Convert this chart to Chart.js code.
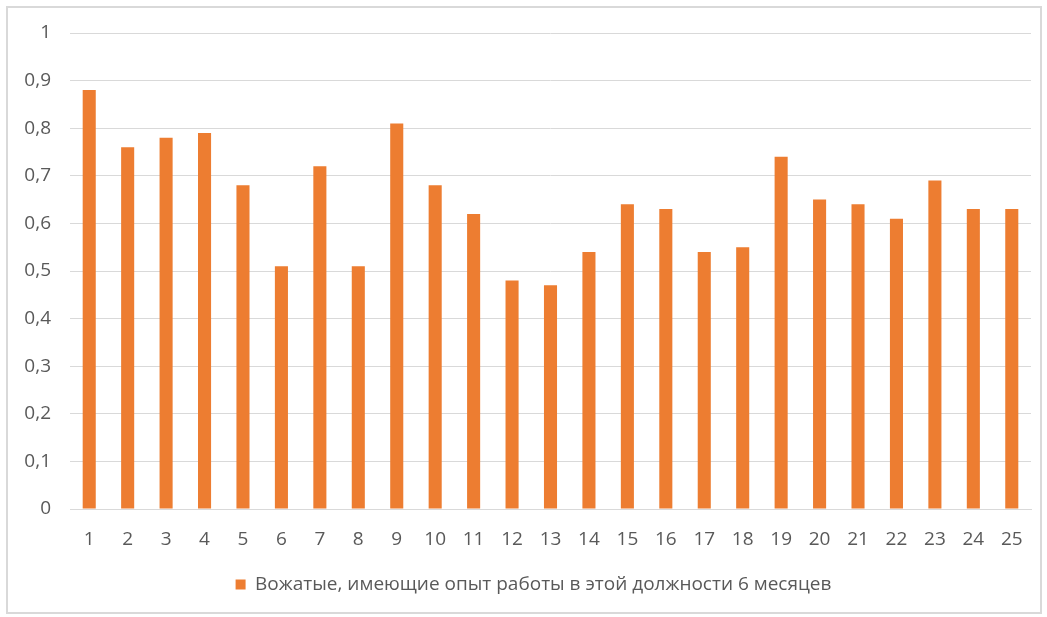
<!DOCTYPE html>
<html>
<head>
<meta charset="utf-8">
<script src="https://cdn.jsdelivr.net/npm/chart.js@4"></script>
<style>
  body { margin: 0; background: #fff; }
  #frame { position: absolute; left: 6px; top: 6px; width: 1032px; height: 604px; border: 2px solid #d9d9d9; }
  canvas { display: block; }
</style>
</head>
<body>
<div id="frame"><canvas id="bar-chart" width="1032" height="604"></canvas></div>
<script>
var groups = ['1','2','3','4','5','6','7','8','9','10','11','12','13','14','15','16','17','18','19','20','21','22','23','24','25'];
var shares = [0.88, 0.76, 0.78, 0.79, 0.68, 0.51, 0.72, 0.51, 0.81, 0.68, 0.62, 0.48, 0.47, 0.54, 0.64, 0.63, 0.54, 0.55, 0.74, 0.65, 0.64, 0.61, 0.69, 0.63, 0.63];
var seriesName = 'Вожатые, имеющие опыт работы в этой должности 6 месяцев';

var textColor = '#595959';
var gridColor = '#d9d9d9';
var font = { family: 'Open Sans', size: 19 };

var ctx = document.getElementById('bar-chart');

// push the centred legend a little to the right
var legendOffset = {
  id: 'legendOffset',
  afterLayout: function(chart) {
    chart.legend.left += 14;
    chart.legend.right += 14;
  }
};

var barChart = new Chart(ctx, {
  type: 'bar',
  data: {
    labels: groups,
    datasets: [
      {
        label: seriesName,
        data: shares,
        backgroundColor: '#ED7D31',
        barPercentage: 0.34,
        categoryPercentage: 1
      }
    ]
  },
  options: {
    responsive: false,
    animation: false,
    layout: { padding: { left: 0, top: 25, right: 9, bottom: 8 } },
    plugins: {
      legend: {
        position: 'bottom',
        labels: { color: textColor, font: font, boxWidth: 10, boxHeight: 10, padding: 10 }
      },
      tooltip: { enabled: false }
    },
    scales: {
      x: {
        grid: { display: false, drawTicks: false },
        border: { color: gridColor },
        ticks: { color: textColor, font: font, padding: 19, maxRotation: 0 },
        afterFit: function(scale) {
          scale.height = 56;
          scale.paddingLeft = 0;
          scale.paddingRight = 0;
        }
      },
      y: {
        min: 0,
        max: 1,
        grid: { color: gridColor, drawTicks: false },
        border: { display: false },
        ticks: {
          stepSize: 0.1,
          color: textColor,
          font: font,
          padding: 19,
          callback: function(v) {
            return (Math.round(v * 10) / 10).toString().replace('.', ',');
          }
        },
        afterFit: function(scale) {
          scale.width = 62;
          scale.paddingTop = 0;
          scale.paddingBottom = 0;
        }
      }
    }
  },
  plugins: [legendOffset]
});
</script>
</body>
</html>
